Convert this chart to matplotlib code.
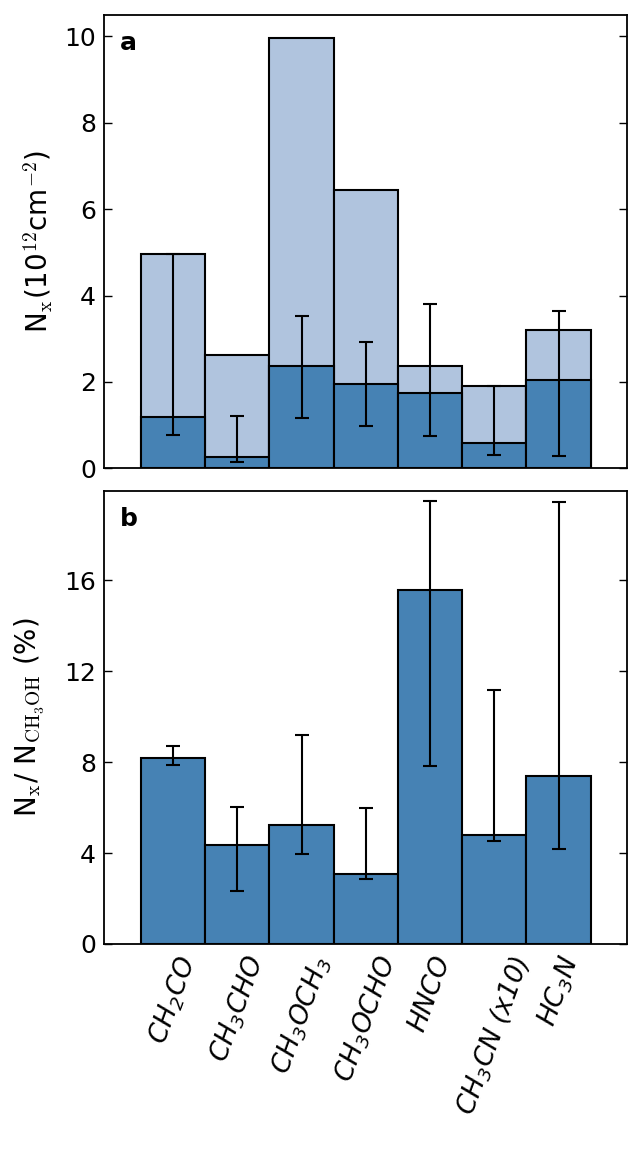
import numpy as np
import matplotlib.pyplot as plt

species = [r'CH$_\mathregular{2}$CO', r'CH$_\mathregular{3}$CHO',
           r'CH$_\mathregular{3}$OCH$_\mathregular{3}$', r'CH$_\mathregular{3}$OCHO',
           'HNCO', r'CH$_\mathregular{3}$CN (x10)', r'HC$_\mathregular{3}$N']

# panel a: column densities (1e12 cm^-2)
N_total = [4.96, 2.62, 9.95, 6.45, 2.38, 1.91, 3.20]
N_x = [1.20, 0.27, 2.36, 1.95, 1.75, 0.59, 2.04]
N_lo = [0.77, 0.14, 1.17, 0.97, 0.76, 0.30, 0.29]
N_hi = [4.96, 1.21, 3.53, 2.92, 3.81, 1.91, 3.65]

# panel b: abundance relative to CH3OH (%)
ratio = [8.19, 4.34, 5.22, 3.07, 15.57, 4.78, 7.40]
ratio_lo = [7.88, 2.31, 3.94, 2.88, 7.84, 4.53, 4.16]
ratio_hi = [8.71, 6.04, 9.21, 5.97, 19.51, 11.18, 19.46]

light = '#b0c4de'
dark = '#4682b4'

plt.rcParams['mathtext.fontset'] = 'cm'

x = np.arange(len(species))
N_x = np.array(N_x)
ratio = np.array(ratio)

fig = plt.figure(figsize=(6.43, 11.55), dpi=100)
ax1 = fig.add_axes([0.1622, 0.5945, 0.8134, 0.3928])
ax2 = fig.add_axes([0.1622, 0.1827, 0.8134, 0.3925])

ax1.bar(x, N_total, width=1, color=light, edgecolor='k', lw=1.5)
ax1.bar(x, N_x, width=1, color=dark, edgecolor='k', lw=1.5)
ax1.errorbar(x, N_x, yerr=[N_x - np.array(N_lo), np.array(N_hi) - N_x],
             fmt='none', ecolor='k', elinewidth=1.5, capsize=5, capthick=1.5)
ax1.set_ylim(0, 10.5)
ax1.set_yticks([0, 2, 4, 6, 8, 10])
ax1.set_xticks([])
ax1.set_ylabel(r'N$_{\rm x}$(10$^{12}$cm$^{-2}$)', fontsize=20)
ax1.yaxis.set_label_coords(-0.094, 0.5)
ax1.text(0.03, 0.965, 'a', transform=ax1.transAxes, fontsize=18,
         fontweight='bold', va='top')

ax2.bar(x, ratio, width=1, color=dark, edgecolor='k', lw=1.5)
ax2.errorbar(x, ratio, yerr=[ratio - np.array(ratio_lo), np.array(ratio_hi) - ratio],
             fmt='none', ecolor='k', elinewidth=1.5, capsize=5, capthick=1.5)
ax2.set_ylim(0, 19.95)
ax2.set_yticks([0, 4, 8, 12, 16])
ax2.set_xticks(x)
ax2.set_xticklabels(species, rotation=70, fontsize=19, fontstyle='italic',
                    math_fontfamily='dejavusans')
ax2.set_ylabel(r'N$_{\rm x}$/ N$_{\rm CH_3OH}$ (%)', fontsize=20)
ax2.yaxis.set_label_coords(-0.112, 0.5)
ax2.text(0.03, 0.965, 'b', transform=ax2.transAxes, fontsize=18,
         fontweight='bold', va='top')

for ax in (ax1, ax2):
    ax.set_xlim(-1.07, 6 + 1.07)
    ax.tick_params(axis='y', direction='in', left=True, right=True,
                   length=6, width=1, labelsize=18, pad=6)
    ax.tick_params(axis='x', length=0, pad=6)
    for s in ax.spines.values():
        s.set_linewidth(1.3)

fig.savefig('out.png', dpi=100)
